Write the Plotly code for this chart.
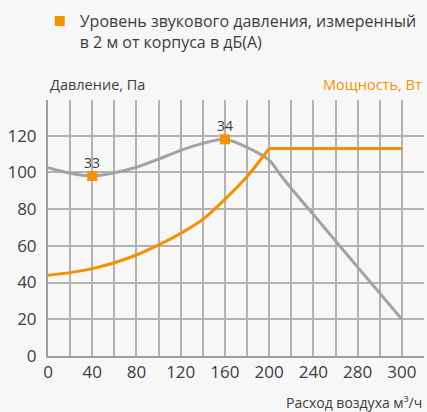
import numpy as np
import plotly.graph_objects as go

# Axis tick labels (flow, m³/h) and where they sit on the grid
tick_labels = [0, 40, 80, 120, 160, 200, 240, 280, 300]
tick_pos = [0, 40, 80, 120, 160, 200, 240, 280, 320]

# Pressure curve, Pa
flow_p = [0, 20, 40, 60, 80, 100, 120, 140, 160, 180, 200, 210, 220, 240, 260, 280, 300]
pressure = [102.5, 99.5, 98, 99.8, 102.8, 107.2, 112, 115.8, 118, 113.6, 106.6, 98.8, 91.2, 77, 62.7, 48.4, 20]

# Power curve, W
flow_w = [0, 20, 40, 60, 80, 100, 120, 140, 160, 180, 200, 300]
power = [44, 45.4, 47.6, 50.8, 55, 60.5, 66.8, 74.4, 85.3, 97.7, 113, 113]

# Sound pressure level points, dB(A)
flow_s = [40, 160]
sound_y = [98, 118]
sound_db = [33, 34]

ORANGE = "#F39200"
GRAY = "#A3A3A3"
TEXT = "#3d3d3d"
BG = "#F7F7F7"
FONT = "Open Sans"


def to_axis(v):
    return np.interp(v, tick_labels, tick_pos)


fig = go.Figure()

fig.add_trace(go.Scatter(
    x=to_axis(flow_p), y=pressure, mode="lines",
    line=dict(color=GRAY, width=3, shape="spline", smoothing=0.8),
    showlegend=False, hoverinfo="skip",
))

# rising part of the power curve is smooth, the plateau is straight
knee = power.index(max(power))
fig.add_trace(go.Scatter(
    x=to_axis(flow_w[:knee + 1]), y=power[:knee + 1], mode="lines",
    line=dict(color=ORANGE, width=3, shape="spline", smoothing=0.8),
    showlegend=False, hoverinfo="skip",
))
fig.add_trace(go.Scatter(
    x=to_axis(flow_w[knee:]), y=power[knee:], mode="lines",
    line=dict(color=ORANGE, width=3),
    showlegend=False, hoverinfo="skip",
))

fig.add_trace(go.Scatter(
    x=to_axis(flow_s), y=sound_y, mode="markers",
    marker=dict(symbol="square", size=10, color=ORANGE),
    name="Уровень звукового давления, измеренный<br>в 2 м от корпуса в дБ(А)",
    showlegend=True, hoverinfo="skip",
))

grid_vals = list(range(0, 341, 20))
grid_text = []
for v in grid_vals:
    if v in tick_pos:
        grid_text.append(str(tick_labels[tick_pos.index(v)]))
    else:
        grid_text.append("")

# dB(A) values written above their markers
db_labels = [
    dict(text=str(db), x=xv, y=yv, xref="x", yref="y", showarrow=False,
         yshift=14, xanchor="center", yanchor="middle",
         font=dict(family=FONT, size=14, color=TEXT))
    for xv, yv, db in zip(to_axis(flow_s), sound_y, sound_db)
]

fig.update_layout(
    width=427, height=412,
    margin=dict(l=48, r=3, t=100, b=56),
    paper_bgcolor=BG, plot_bgcolor=BG,
    font=dict(family=FONT, color=TEXT),
    showlegend=True,
    legend=dict(
        x=-0.022, xanchor="left", y=0.99, yref="container", yanchor="top",
        font=dict(family=FONT, size=16, color=TEXT),
        bgcolor="rgba(0,0,0,0)", valign="top", itemwidth=30,
    ),
    xaxis=dict(
        range=[0, 340], tickvals=grid_vals, ticktext=grid_text,
        showgrid=True, gridcolor="#B2B2B2", gridwidth=1.5,
        showline=True, linecolor="#9E9E9E", linewidth=2,
        zeroline=False, ticks="",
        tickfont=dict(family=FONT, size=17, color=TEXT),
    ),
    yaxis=dict(
        range=[0, 139.4], tickvals=list(range(0, 121, 20)),
        showgrid=True, gridcolor="#B2B2B2", gridwidth=1.5,
        showline=True, linecolor="#9E9E9E", linewidth=2,
        zeroline=False, ticks="outside", ticklen=6, tickcolor="rgba(0,0,0,0)",
        tickfont=dict(family=FONT, size=17, color=TEXT),
    ),
    annotations=db_labels + [
        dict(text="Давление, Па", xref="paper", yref="paper", x=0, y=1.0586,
             xanchor="left", yanchor="middle", showarrow=False,
             font=dict(family=FONT, size=14.5, color=TEXT)),
        dict(text="Мощность, Вт", xref="paper", yref="paper", x=1, y=1.0586,
             xanchor="right", yanchor="middle", showarrow=False,
             font=dict(family=FONT, size=14.5, color=ORANGE)),
        dict(text="Расход воздуха м³/ч", xref="paper", yref="paper", x=1, y=-0.1797,
             xanchor="right", yanchor="middle", showarrow=False,
             font=dict(family=FONT, size=14, color=TEXT)),
    ],
)

fig.write_html("out.html")
